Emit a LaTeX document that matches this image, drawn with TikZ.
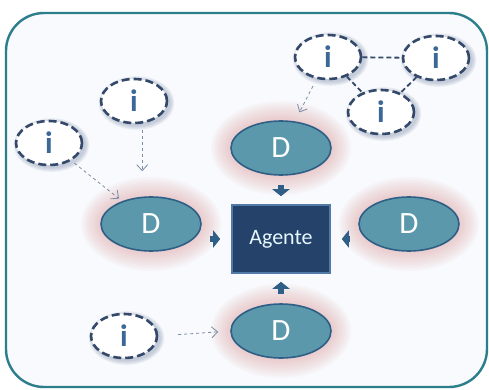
\documentclass[tikz,border=0pt]{standalone}
\usepackage{fontspec}
\setmainfont{Carlito}
\usetikzlibrary{shapes.geometric,arrows.meta,backgrounds}
\definecolor{frameteal}{HTML}{2B7E8A}
\definecolor{panelbg}{HTML}{F8FAFD}
\definecolor{dfill}{HTML}{5B98AB}
\definecolor{dborder}{HTML}{2F5F86}
\definecolor{agfill}{HTML}{24426A}
\definecolor{agborder}{HTML}{5379A6}
\definecolor{iborder}{HTML}{34496A}
\definecolor{iletter}{HTML}{3C6898}
\definecolor{glowpink}{HTML}{E0A0A0}
\definecolor{ishadow}{HTML}{7E8CA8}
\definecolor{dashgray}{HTML}{7A8CA6}

\begin{document}
\begin{tikzpicture}[
  x=1pt, y=1pt,
  dnode/.style={ellipse, draw=dborder, line width=1.6pt, fill=dfill, minimum width=100pt, minimum height=54pt, inner sep=0pt, text=white, font=\fontsize{31}{31}\selectfont},
  inode/.style={ellipse, draw=iborder, line width=2.6pt, dash pattern=on 8pt off 4pt, fill=white, minimum width=66pt, minimum height=44pt, inner sep=0pt, text=iletter, font=\fontsize{31}{31}\selectfont\bfseries},
  agentbox/.style={rectangle, draw=agborder, line width=1.6pt, fill=agfill, minimum width=98pt, minimum height=68pt, text=white!90!cyan, font=\fontsize{22}{22}\selectfont},
  blockarrow/.style={-{Triangle[width=17pt,length=7pt]}, line width=6pt, draw=dborder},
  hintarrow/.style={-{Straight Barb[length=6pt,width=11pt]}, dashed, line width=0.8pt, draw=dashgray},
  linkline/.style={line width=1.8pt, dash pattern=on 5pt off 3pt, draw=iborder}
]
\useasboundingbox (0,0) rectangle (489,389);

% central agent and the four D nodes
\node[agentbox] (ag) at (281,150) {Agente};
\node[dnode] (dt) at (281,241) {D};
\node[dnode] (dl) at (151,165) {D};
\node[dnode] (dr) at (409,165) {D};
\node[dnode] (db) at (281,58) {D};

% information nodes
\node[inode] (il) at (49,246) {i};
\node[inode] (iu) at (134,288) {i};
\node[inode] (ia) at (328,332) {i};
\node[inode] (ib) at (436,331) {i};
\node[inode] (ic) at (381,277) {i};
\node[inode] (id) at (124,53) {i};

% frame, glows and shadows
\begin{scope}[on background layer]
  \fill[white] (0,0) rectangle (489,389);
  \draw[frameteal, line width=2.4pt, fill=panelbg, rounded corners=38pt] (6,2) rectangle (487,376);
  \foreach \n in {dt,dl,dr,db}
    \foreach \k in {1,...,10}
      \fill[glowpink, opacity=0.06] (\n.center) ellipse ({50+2*\k} and {27+2*\k});
  \foreach \n in {il,iu,ia,ib,ic,id}
    \foreach \k in {1,...,4}
      \fill[ishadow, opacity=0.12] ([shift={(2.5,-2)}]\n.center) ellipse ({33+1.2*\k} and {22+1.2*\k});
\end{scope}

% block arrows into the agent
\draw[blockarrow, shorten <=9pt, shorten >=8pt] (dt.south) -- (ag.north);
\draw[blockarrow, shorten <=8pt, shorten >=11pt] (ag.west -| dl.east) -- (ag.west);
\draw[blockarrow, shorten <=8pt, shorten >=11pt] (ag.east -| dr.west) -- (ag.east);
\draw[blockarrow, shorten <=9pt, shorten >=8pt] (db.north) -- (ag.south);

% dashed hints
\draw[hintarrow, shorten <=6pt, shorten >=25pt] (iu.290) -- (iu.290 |- dl.north);
\draw[hintarrow, shorten <=4pt, shorten >=4pt] (il) -- (dl);
\draw[hintarrow, shorten <=8pt, shorten >=10pt] (ia) -- (dt);
\draw[hintarrow, shorten <=20pt, shorten >=12pt] (id.east) -- (db.west);

% links between the upper information nodes
\draw[linkline] (ia) -- (ib);
\draw[linkline] (ia) -- (ic);
\draw[linkline] (ib) -- (ic);
\end{tikzpicture}
\end{document}
